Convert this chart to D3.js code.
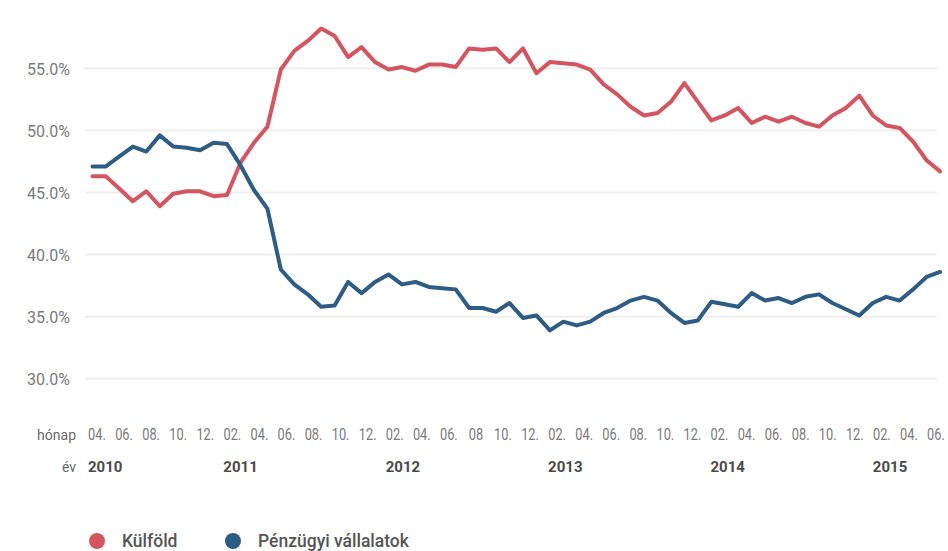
<!DOCTYPE html>
<html>
<head>
<meta charset="utf-8">
<script src="https://cdn.jsdelivr.net/npm/d3@7"></script>
<style>
  html, body { margin: 0; padding: 0; background: #fff; }
  svg { display: block; font-family: Roboto, "Noto Sans", sans-serif; }
</style>
</head>
<body>
<svg id="chart" width="948" height="551"></svg>
<script>
// Monthly observations, April 2010 – July 2015
const months = [
  "2010-04","2010-05","2010-06","2010-07","2010-08","2010-09","2010-10","2010-11","2010-12",
  "2011-01","2011-02","2011-03","2011-04","2011-05","2011-06","2011-07","2011-08","2011-09","2011-10","2011-11","2011-12",
  "2012-01","2012-02","2012-03","2012-04","2012-05","2012-06","2012-07","2012-08","2012-09","2012-10","2012-11","2012-12",
  "2013-01","2013-02","2013-03","2013-04","2013-05","2013-06","2013-07","2013-08","2013-09","2013-10","2013-11","2013-12",
  "2014-01","2014-02","2014-03","2014-04","2014-05","2014-06","2014-07","2014-08","2014-09","2014-10","2014-11","2014-12",
  "2015-01","2015-02","2015-03","2015-04","2015-05","2015-06","2015-07"
];

// Share held (%)
const kulfold = [
  46.3, 46.3, 45.3, 44.3, 45.1, 43.9, 44.9, 45.1, 45.1,
  44.7, 44.8, 47.4, 49.0, 50.3, 54.9, 56.4, 57.2, 58.2, 57.6, 55.9, 56.7,
  55.5, 54.9, 55.1, 54.8, 55.3, 55.3, 55.1, 56.6, 56.5, 56.6, 55.5, 56.6,
  54.6, 55.5, 55.4, 55.3, 54.9, 53.7, 52.9, 51.9, 51.2, 51.4, 52.3, 53.8,
  52.3, 50.8, 51.2, 51.8, 50.6, 51.1, 50.7, 51.1, 50.6, 50.3, 51.2, 51.8,
  52.8, 51.2, 50.4, 50.2, 49.1, 47.6, 46.7
];
const penzugyi = [
  47.1, 47.1, 47.9, 48.7, 48.3, 49.6, 48.7, 48.6, 48.4,
  49.0, 48.9, 47.2, 45.2, 43.7, 38.8, 37.6, 36.8, 35.8, 35.9, 37.8, 36.9,
  37.8, 38.4, 37.6, 37.8, 37.4, 37.3, 37.2, 35.7, 35.7, 35.4, 36.1, 34.9,
  35.1, 33.9, 34.6, 34.3, 34.6, 35.3, 35.7, 36.3, 36.6, 36.3, 35.3, 34.5,
  34.7, 36.2, 36.0, 35.8, 36.9, 36.3, 36.5, 36.1, 36.6, 36.8, 36.1, 35.6,
  35.1, 36.1, 36.6, 36.3, 37.2, 38.2, 38.6
];

const yTicks = [30, 35, 40, 45, 50, 55];

// Every second month is labelled, starting with April 2010
const monthLabels = [
  "04.","06.","08.","10.","12.",
  "02.","04.","06.","08.","10.","12.",
  "02.","04.","06.","08","10.","12.",
  "02.","04.","06.","08.","10.","12.",
  "02.","04.","06.","08.","10.","12.",
  "02.","04.","06."
];
const years = ["2010", "2011", "2012", "2013", "2014", "2015"];
const yearFirstLabel = [0, 5, 11, 17, 23, 29];

const seriesNames = ["Külföld", "Pénzügyi vállalatok"];
const seriesColors = ["#d4545f", "#2d5c84"];

const svg = d3.select("#chart");

const x = d3.scalePoint().domain(months).range([92.5, 940]);
const y = d3.scaleLinear().domain([30, 55]).range([378.8, 68.3]);
const xLabel = d3.scalePoint().domain(d3.range(monthLabels.length)).range([97, 936]);

// Horizontal gridlines
svg.append("g")
  .selectAll("line")
  .data(yTicks)
  .join("line")
  .attr("x1", 85).attr("x2", 937)
  .attr("y1", d => y(d)).attr("y2", d => y(d))
  .attr("stroke", "#efefef")
  .attr("stroke-width", 2);

// Y axis labels
const yAxis = d3.axisLeft(y)
  .tickValues(yTicks)
  .tickSize(0)
  .tickPadding(0)
  .tickFormat(d => d.toFixed(1) + "%");
const yg = svg.append("g").attr("transform", "translate(70,1)").call(yAxis);
yg.select(".domain").remove();
yg.selectAll("text")
  .attr("font-size", 16)
  .attr("font-family", "Roboto, sans-serif")
  .attr("fill", "#7a7a7a");

// Lines
const line = d3.line()
  .x((d, i) => x(months[i]))
  .y(d => y(d));

[kulfold, penzugyi].forEach((vals, k) => {
  svg.append("path")
    .datum(vals)
    .attr("d", line)
    .attr("fill", "none")
    .attr("stroke", seriesColors[k])
    .attr("stroke-width", 4)
    .attr("stroke-linejoin", "round")
    .attr("stroke-linecap", "round");
});

// Month row
svg.append("text")
  .attr("x", 76).attr("y", 440)
  .attr("text-anchor", "end")
  .attr("font-size", 14)
  .attr("fill", "#6a6a6a")
  .text("hónap");

svg.append("g")
  .selectAll("text")
  .data(monthLabels)
  .join("text")
  .attr("transform", (d, i) => `translate(${xLabel(i)},440) scale(0.8,1)`)
  .attr("text-anchor", "middle")
  .attr("font-size", 16)
  .attr("fill", "#7a7a7a")
  .text(d => d);

// Year row
svg.append("text")
  .attr("x", 76).attr("y", 472)
  .attr("text-anchor", "end")
  .attr("font-size", 14)
  .attr("fill", "#6a6a6a")
  .text("év");

svg.append("g")
  .selectAll("text")
  .data(years)
  .join("text")
  .attr("x", (d, i) => xLabel(yearFirstLabel[i]) - 9)
  .attr("y", 472)
  .attr("font-size", 15)
  .attr("font-weight", 700)
  .attr("fill", "#4a4a4a")
  .text(d => d);

// Legend
const legendX = [97, 233];
const lg = svg.append("g");
seriesNames.forEach((name, k) => {
  lg.append("circle")
    .attr("cx", legendX[k]).attr("cy", 541)
    .attr("r", 8)
    .attr("fill", seriesColors[k]);
  lg.append("text")
    .attr("x", legendX[k] + 25).attr("y", 547)
    .attr("font-size", 17.5)
    .attr("font-weight", 500)
    .attr("fill", "#555")
    .text(name);
});
</script>
</body>
</html>
